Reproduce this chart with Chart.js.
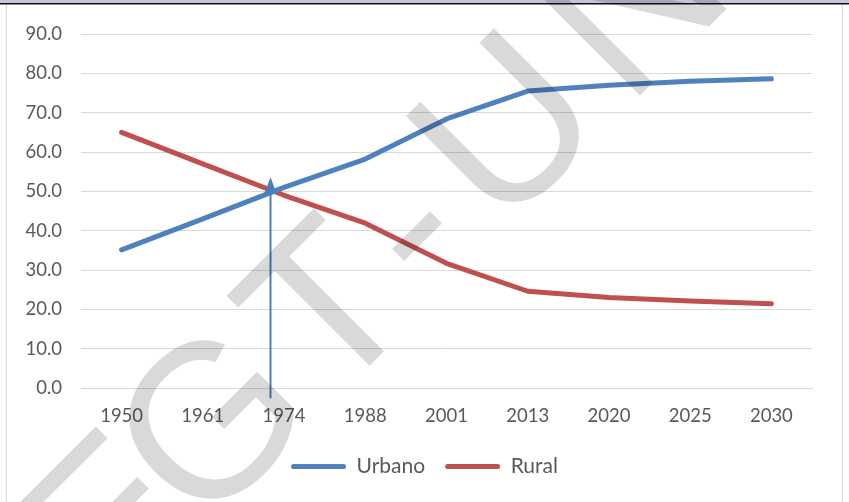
<!DOCTYPE html>
<html>
<head>
<meta charset="utf-8">
<script src="https://cdn.jsdelivr.net/npm/chart.js@4/dist/chart.umd.min.js"></script>
<style>
  html, body { margin: 0; padding: 0; background: #fff; }
  #chart { display: block; }
</style>
</head>
<body>
<canvas id="chart" width="849" height="502"></canvas>
<script>
const years = ["1950", "1961", "1974", "1988", "2001", "2013", "2020", "2025", "2030"];
const urbano = [35.1, 43.0, 51.0, 58.2, 68.4, 75.5, 77.0, 78.0, 78.6];
const rural = [65.0, 57.0, 49.0, 41.9, 31.7, 24.6, 23.0, 22.1, 21.4];
const yTicks = [0, 10, 20, 30, 40, 50, 60, 70, 80, 90];

// arrow marking the crossover (category index, top value, bottom value)
const arrowAt = 1.83;
const arrowTop = 53.6;
const arrowBottom = -2.6;

const BLUE = "#4f81bd";
const RED = "#c0504d";
const TEXT = "#595959";
const FONT = 'Lato, "Liberation Sans", sans-serif';

// page frame: top strip of the document and the chart box border
const framePlugin = {
  id: "frame",
  beforeDraw(chart) {
    const ctx = chart.ctx;
    ctx.save();
    ctx.fillStyle = "#fff";
    ctx.fillRect(0, 0, chart.width, chart.height);
    ctx.fillStyle = "#ccc0da";
    ctx.fillRect(0, 0, chart.width, 3);
    ctx.fillStyle = "#111";
    ctx.fillRect(0, 3, chart.width, 1.5);
    ctx.strokeStyle = "#d9d9d9";
    ctx.lineWidth = 1;
    ctx.beginPath();
    ctx.moveTo(6.5, 5);
    ctx.lineTo(6.5, chart.height);
    ctx.moveTo(842.5, 5);
    ctx.lineTo(842.5, chart.height);
    ctx.stroke();
    ctx.restore();
  }
};

const arrowPlugin = {
  id: "arrow",
  afterDatasetsDraw(chart) {
    const { ctx, scales: { x, y } } = chart;
    const px = Math.round(x.getPixelForValue(arrowAt)) + 0.5;
    const top = y.getPixelForValue(arrowTop);
    const bottom = y.getPixelForValue(arrowBottom);
    ctx.save();
    ctx.strokeStyle = "#4a7ebb";
    ctx.fillStyle = "#4a7ebb";
    ctx.lineWidth = 2;
    ctx.beginPath();
    ctx.moveTo(px, bottom);
    ctx.lineTo(px, top + 12);
    ctx.stroke();
    ctx.beginPath();
    ctx.moveTo(px, top);
    ctx.lineTo(px - 6, top + 16);
    ctx.lineTo(px + 6, top + 16);
    ctx.closePath();
    ctx.fill();
    ctx.restore();
  }
};

// diagonal document watermark
const watermarkPlugin = {
  id: "watermark",
  afterDraw(chart) {
    const ctx = chart.ctx;
    const letters = [["E", -293], ["G", -150], ["T", 13], ["-", 128], ["U", 267], ["N", 446], ["A", 610]];
    ctx.save();
    ctx.rotate(-Math.PI / 4);
    ctx.font = '219px "Liberation Sans", Arial, sans-serif';
    ctx.textAlign = "center";
    ctx.textBaseline = "alphabetic";
    ctx.fillStyle = "rgba(0,0,0,0.15)";
    letters.forEach(([ch, u]) => ctx.fillText(ch, u, 520));
    ctx.restore();
  }
};

new Chart(document.getElementById("chart"), {
  type: "line",
  data: {
    labels: years,
    datasets: [
      {
        label: "Urbano",
        data: urbano,
        borderColor: BLUE,
        backgroundColor: BLUE,
        borderWidth: 5,
        borderCapStyle: "round",
        borderJoinStyle: "round",
        pointRadius: 0,
        tension: 0
      },
      {
        label: "Rural",
        data: rural,
        borderColor: RED,
        backgroundColor: RED,
        borderWidth: 5,
        borderCapStyle: "round",
        borderJoinStyle: "round",
        pointRadius: 0,
        tension: 0
      }
    ]
  },
  options: {
    responsive: false,
    animation: false,
    layout: { padding: { top: 34, left: 0, right: 0, bottom: 15 } },
    plugins: {
      tooltip: { enabled: false },
      legend: {
        position: "bottom",
        labels: {
          color: TEXT,
          font: { family: FONT, size: 21 },
          boxWidth: 55,
          boxHeight: 5,
          padding: 20,
          useBorderRadius: true,
          borderRadius: 2.5,
          generateLabels: chart =>
            Chart.defaults.plugins.legend.labels.generateLabels(chart).map(l => ({ ...l, lineWidth: 0 }))
        }
      }
    },
    scales: {
      x: {
        offset: true,
        grid: { display: false, drawTicks: false },
        border: { display: true, color: "#d9d9d9", width: 1 },
        ticks: { color: TEXT, font: { family: FONT, size: 18.5 }, padding: 17, maxRotation: 0 },
        afterFit: s => { s.height = 48; }
      },
      y: {
        min: 0,
        max: 90,
        afterBuildTicks: s => { s.ticks = yTicks.map(v => ({ value: v })); },
        grid: { color: "#d9d9d9", lineWidth: 1, drawTicks: false },
        border: { display: false },
        ticks: {
          color: TEXT,
          font: { family: FONT, size: 18.5 },
          padding: 19,
          callback: v => Number(v).toFixed(1)
        },
        afterFit: s => { s.width = 81; }
      },
      y2: {
        position: "right",
        grid: { display: false, drawTicks: false },
        border: { display: false },
        ticks: { display: false },
        afterFit: s => { s.width = 37; }
      }
    }
  },
  plugins: [framePlugin, arrowPlugin, watermarkPlugin]
});
</script>
</body>
</html>
